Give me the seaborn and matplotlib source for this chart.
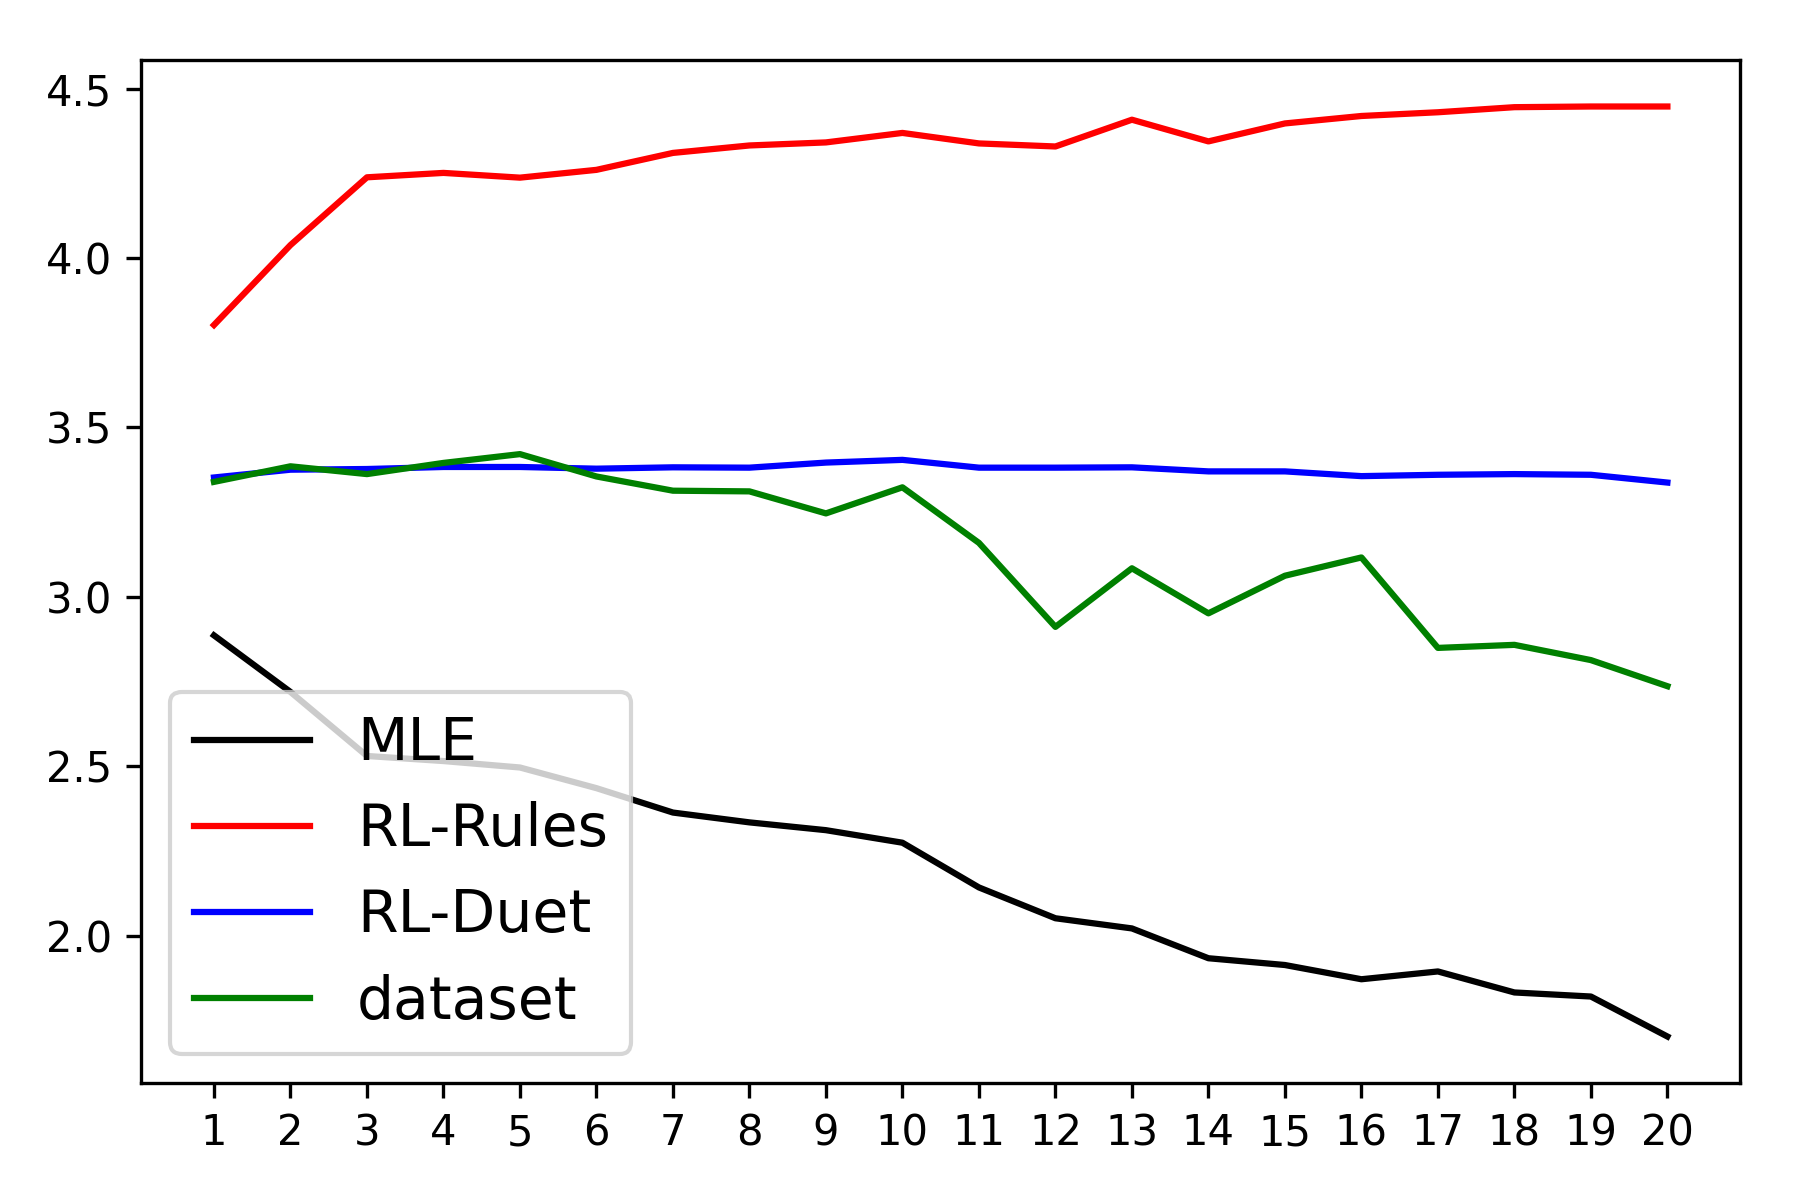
import numpy as np
import pandas as pd
import matplotlib
matplotlib.use("Agg")
import matplotlib.pyplot as plt
import seaborn as sns

steps = list(range(1, 21))
mle = [2.886, 2.719, 2.530, 2.515, 2.496, 2.435, 2.363, 2.334, 2.311, 2.274,
       2.142, 2.051, 2.021, 1.933, 1.913, 1.871, 1.894, 1.832, 1.820, 1.702]
rl_rules = [3.802, 4.038, 4.238, 4.251, 4.237, 4.260, 4.310, 4.332, 4.341, 4.369,
            4.338, 4.329, 4.408, 4.344, 4.397, 4.419, 4.430, 4.445, 4.447, 4.447]
rl_duet = [3.352, 3.375, 3.377, 3.383, 3.383, 3.378, 3.382, 3.381, 3.396, 3.404,
           3.381, 3.381, 3.382, 3.370, 3.370, 3.356, 3.360, 3.362, 3.360, 3.337]
dataset = [3.339, 3.385, 3.362, 3.395, 3.421, 3.355, 3.313, 3.311, 3.246, 3.323,
           3.159, 2.911, 3.084, 2.951, 3.062, 3.116, 2.849, 2.858, 2.813, 2.736]

series_names = ["MLE", "RL-Rules", "RL-Duet", "dataset"]
series_colors = ["black", "red", "blue", "green"]

df = pd.DataFrame({
    "step": steps * 4,
    "score": mle + rl_rules + rl_duet + dataset,
    "model": sum([[n] * len(steps) for n in series_names], []),
})

dpi = 300
fig, ax = plt.subplots(figsize=(6, 4), dpi=dpi)
fig.subplots_adjust(left=0.0785, right=0.9667, top=0.95, bottom=0.0975)

sns.lineplot(data=df, x="step", y="score", hue="model", hue_order=series_names,
             palette=dict(zip(series_names, series_colors)), linewidth=1.5,
             ax=ax, legend=True)

ax.set_xticks(steps)
ax.set_xticklabels([str(s) for s in steps])
ax.set_yticks([2.0, 2.5, 3.0, 3.5, 4.0, 4.5])
ax.tick_params(labelsize=10)
ax.set_xlabel("")
ax.set_ylabel("")

handles, labels = ax.get_legend_handles_labels()
ax.legend(handles, labels, loc="lower left", fontsize=14)

fig.savefig("out.png", dpi=dpi)
